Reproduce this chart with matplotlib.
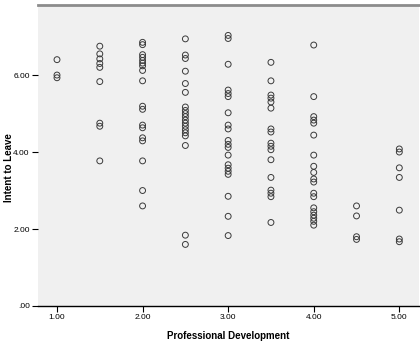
import matplotlib.pyplot as plt
import numpy as np

# Professional Development (x) groups and Intent to Leave (y) values
pd_1_0 = [6.40, 6.00, 5.93]
pd_1_5 = [6.75, 6.55, 6.42, 6.30, 6.20, 5.83, 4.75, 4.67, 3.77]
pd_2_0 = [6.85, 6.79, 6.53, 6.46, 6.38, 6.31, 6.24, 6.12, 5.85, 5.19, 5.11,
          4.70, 4.63, 4.37, 4.29, 3.77, 3.00, 2.60]
pd_2_5 = [6.94, 6.52, 6.43, 6.10, 5.78, 5.55, 5.17, 5.08, 5.00, 4.92, 4.83,
          4.75, 4.67, 4.58, 4.50, 4.42, 4.17, 1.84, 1.60]
pd_3_0 = [7.03, 6.95, 6.28, 5.61, 5.52, 5.44, 5.02, 4.70, 4.60, 4.30, 4.20,
          4.12, 3.92, 3.67, 3.58, 3.50, 3.42, 2.85, 2.33, 1.83]
pd_3_5 = [6.33, 5.85, 5.48, 5.40, 5.30, 5.14, 4.60, 4.52, 4.23, 4.15, 4.06,
          3.80, 3.34, 3.01, 2.93, 2.84, 2.17]
pd_4_0 = [6.78, 5.44, 4.92, 4.83, 4.75, 4.44, 3.92, 3.63, 3.47, 3.30, 3.22,
          2.93, 2.84, 2.55, 2.45, 2.36, 2.28, 2.20, 2.10]
pd_4_5 = [2.60, 2.34, 1.80, 1.73]
pd_5_0 = [4.08, 4.00, 3.59, 3.34, 2.49, 1.74, 1.67]

groups = {1.0: pd_1_0, 1.5: pd_1_5, 2.0: pd_2_0, 2.5: pd_2_5, 3.0: pd_3_0,
          3.5: pd_3_5, 4.0: pd_4_0, 4.5: pd_4_5, 5.0: pd_5_0}

x_ticks = [1.0, 2.0, 3.0, 4.0, 5.0]
x_tick_labels = ["1.00", "2.00", "3.00", "4.00", "5.00"]
y_ticks = [0, 2, 4, 6]
y_tick_labels = [".00", "2.00", "4.00", "6.00"]

plt.rcParams["font.family"] = ["Liberation Sans", "DejaVu Sans"]

fig = plt.figure(figsize=(4.2, 3.46), dpi=100)
ax = fig.add_axes([38 / 420, 40 / 346, 381 / 420, 301 / 346])
ax.set_facecolor("#f0f0f0")

xs = np.concatenate([[k] * len(v) for k, v in groups.items()])
ys = np.concatenate([v for v in groups.values()])
ax.scatter(xs, ys, s=18, facecolors="none", edgecolors="#3a3a3a", linewidths=0.7)

ax.set_xlim(0.778, 5.23)
ax.set_ylim(0, 7.82)
ax.set_xticks(x_ticks)
ax.set_xticklabels(x_tick_labels)
ax.set_yticks(y_ticks)
ax.set_yticklabels(y_tick_labels)
ax.tick_params(axis="both", labelsize=6, length=4, width=0.8, color="black", pad=2)

ax.spines["left"].set_visible(False)
ax.spines["right"].set_visible(False)
ax.spines["top"].set_color("#8c8c8c")
ax.spines["top"].set_linewidth(2)
ax.spines["bottom"].set_color("black")
ax.spines["bottom"].set_linewidth(1)

ax.set_xlabel("Professional Development", fontsize=7, fontweight="bold")
ax.set_ylabel("Intent to Leave", fontsize=7, fontweight="bold")
ax.xaxis.set_label_coords(0.50, -0.083)
ax.yaxis.set_label_coords(-0.062, 0.46)

fig.savefig("out.png", dpi=100)
